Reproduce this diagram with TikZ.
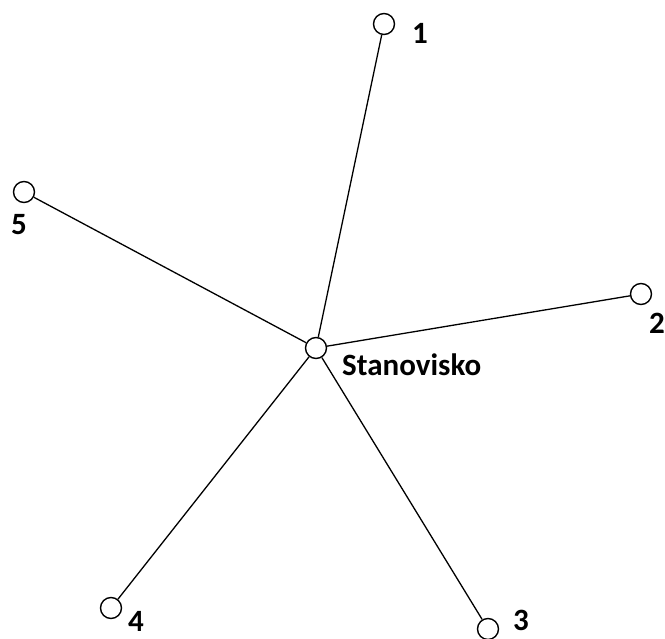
\documentclass[tikz,border=0pt]{standalone}
\usepackage{fontspec}
\setmainfont{Carlito}
\begin{document}
\begin{tikzpicture}[x=1pt,y=-1pt,
  vert/.style={circle,draw,line width=1.4pt,minimum size=21pt,inner sep=0pt,fill=white},
  lbl/.style={font=\fontsize{31}{35}\selectfont\bfseries,inner sep=0pt},
  edge/.style={line width=1.3pt}]
\useasboundingbox (0,0) rectangle (665,639);
\node[vert] (c) at (316,348) {};
\node[vert] (n1) at (384,24) {};
\node[vert] (n2) at (641,294) {};
\node[vert] (n3) at (488,629) {};
\node[vert] (n4) at (111,608) {};
\node[vert] (n5) at (24,192) {};
\draw[edge] (c) -- (n1);
\draw[edge] (c) -- (n2);
\draw[edge] (c) -- (n3);
\draw[edge] (c) -- (n4);
\draw[edge] (c) -- (n5);
\node[lbl] (l1) at (420,33) {1};
\node[lbl] (l2) at (657,323) {2};
\node[lbl] (l3) at (521,620) {3};
\node[lbl] (l4) at (136,621) {4};
\node[lbl] (l5) at (19,225) {5};
\node[lbl,anchor=west] (lc) at (342,365) {Stanovisko};
\end{tikzpicture}
\end{document}
